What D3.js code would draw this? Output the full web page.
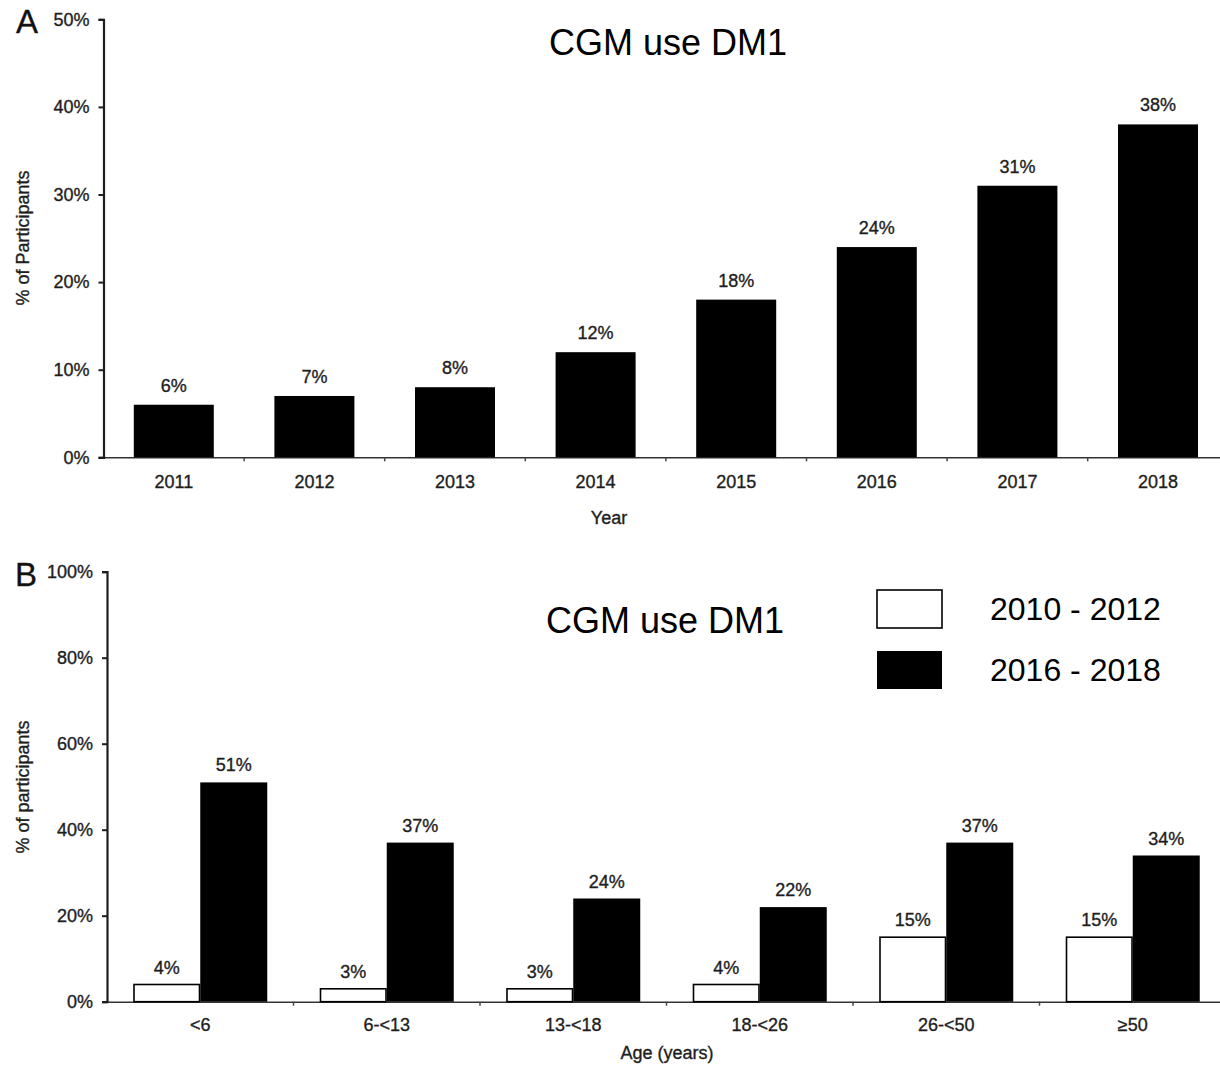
<!DOCTYPE html>
<html>
<head>
<meta charset="utf-8">
<script src="https://cdn.jsdelivr.net/npm/d3@7"></script>
<style>
  html, body { margin: 0; padding: 0; background: #fff; }
  svg { display: block; font-family: "Liberation Sans", Arial, sans-serif; }
  .lbl { stroke: #1e1e1e; stroke-width: 0.35px; }
</style>
</head>
<body>
<svg id="chart" width="1220" height="1067"></svg>
<script>
// Panel A: CGM use by calendar year
const years = ["2011", "2012", "2013", "2014", "2015", "2016", "2017", "2018"];
const yearPct = [6, 7, 8, 12, 18, 24, 31, 38];
const ticksA = [0, 10, 20, 30, 40, 50];

// Panel B: CGM use by age group, two periods
const ageGroups = ["<6", "6-<13", "13-<18", "18-<26", "26-<50", "≥50"];
const periods = ["2010 - 2012", "2016 - 2018"];
const pctEarly = [4, 3, 3, 4, 15, 15];
const pctLate = [51, 37, 24, 22, 37, 34];
const ticksB = [0, 20, 40, 60, 80, 100];

const svg = d3.select("#chart");
const ink = "#1e1e1e";
const fs = 18;
const pct = d => d + "%";

function yAxis(g, y, ticks, x0) {
  const ax = g.append("g").attr("transform", `translate(${x0},0)`)
    .call(d3.axisLeft(y).tickValues(ticks).tickFormat(pct).tickSize(5).tickPadding(9));
  ax.select(".domain").attr("stroke", ink).attr("stroke-width", 2.2);
  ax.selectAll(".tick line").attr("stroke", ink).attr("stroke-width", 2);
  ax.selectAll(".tick text").attr("fill", ink).attr("font-size", fs).attr("class", "lbl")
    .attr("font-family", "Liberation Sans, Arial, sans-serif");
  return ax;
}

function xAxis(g, x, y0, pad) {
  const ax = g.append("g").attr("transform", `translate(0,${y0})`)
    .call(d3.axisBottom(x).tickSize(0).tickPadding(pad));
  ax.select(".domain").attr("stroke", "#333").attr("stroke-width", 1.6);
  ax.selectAll(".tick text").attr("fill", ink).attr("font-size", fs).attr("class", "lbl")
    .attr("font-family", "Liberation Sans, Arial, sans-serif");
  // small separator marks between categories
  const dom = x.domain();
  g.append("g").selectAll("line").data(dom.slice(1)).join("line")
    .attr("x1", d => x(d)).attr("x2", d => x(d))
    .attr("y1", y0).attr("y2", y0 + 4)
    .attr("stroke", "#444").attr("stroke-width", 1.5);
  return ax;
}

// ---------- Panel A ----------
const gA = svg.append("g");
const xA = d3.scaleBand().domain(years).range([103.5, 103.5 + 8 * 140.6]).padding(0);
const yA = d3.scaleLinear().domain([0, 50]).range([457.3, 19.3]);
const barWA = 80;

xAxis(gA, xA, yA(0), 18);
yAxis(gA, yA, ticksA, 103.5);

gA.append("g").selectAll("rect").data(years).join("rect")
  .attr("x", (d) => xA(d) + (xA.bandwidth() - barWA) / 2)
  .attr("width", barWA)
  .attr("y", (d, i) => yA(yearPct[i]))
  .attr("height", (d, i) => yA(0) - yA(yearPct[i]))
  .attr("fill", "#000");

gA.append("g").selectAll("text").data(years).join("text")
  .attr("class", "lbl")
  .attr("x", d => xA(d) + xA.bandwidth() / 2)
  .attr("y", (d, i) => yA(yearPct[i]) - 13)
  .attr("text-anchor", "middle").attr("font-size", fs).attr("fill", ink)
  .text((d, i) => pct(yearPct[i]));

gA.append("text").attr("x", 668).attr("y", 55).attr("text-anchor", "middle")
  .attr("font-size", 36).attr("fill", "#000").text("CGM use DM1");
gA.append("text").attr("x", 16).attr("y", 33).attr("class", "lbl")
  .attr("font-size", 33).attr("fill", "#111").text("A");
gA.append("text").attr("transform", "translate(29,238) rotate(-90)").attr("class", "lbl")
  .attr("text-anchor", "middle").attr("font-size", fs).attr("fill", ink)
  .text("% of Participants");
gA.append("text").attr("x", 609).attr("y", 524).attr("text-anchor", "middle").attr("class", "lbl")
  .attr("font-size", fs).attr("fill", ink).text("Year");

// ---------- Panel B ----------
const gB = svg.append("g");
const xB = d3.scaleBand().domain(ageGroups).range([107, 107 + 6 * 186.5]).padding(0);
const yB = d3.scaleLinear().domain([0, 100]).range([1001.7, 571.7]);
const sub = d3.scaleBand().domain(periods).range([0, 134]).padding(0);
const groupOff = (xB.bandwidth() - 134) / 2;
const seriesB = [
  { key: periods[0], vals: pctEarly, fill: "#fff" },
  { key: periods[1], vals: pctLate, fill: "#000" }
];

xAxis(gB, xB, yB(0), 17);
yAxis(gB, yB, ticksB, 107);

seriesB.forEach(s => {
  gB.append("g").selectAll("rect").data(ageGroups).join("rect")
    .attr("x", d => xB(d) + groupOff + sub(s.key) + (s.fill === "#fff" ? 0.75 : 0))
    .attr("width", sub.bandwidth() - (s.fill === "#fff" ? 1.5 : 0))
    .attr("y", (d, i) => yB(s.vals[i]))
    .attr("height", (d, i) => yB(0) - yB(s.vals[i]))
    .attr("fill", s.fill)
    .attr("stroke", "#000").attr("stroke-width", s.fill === "#fff" ? 1.6 : 0);
  gB.append("g").selectAll("text").data(ageGroups).join("text")
    .attr("class", "lbl")
    .attr("x", d => xB(d) + groupOff + sub(s.key) + sub.bandwidth() / 2)
    .attr("y", (d, i) => yB(s.vals[i]) - 11)
    .attr("text-anchor", "middle").attr("font-size", fs).attr("fill", ink)
    .text((d, i) => pct(s.vals[i]));
});

gB.append("text").attr("x", 665).attr("y", 633).attr("text-anchor", "middle")
  .attr("font-size", 36).attr("fill", "#000").text("CGM use DM1");
gB.append("text").attr("x", 15).attr("y", 586).attr("class", "lbl")
  .attr("font-size", 33).attr("fill", "#111").text("B");
gB.append("text").attr("transform", "translate(29,787) rotate(-90)").attr("class", "lbl")
  .attr("text-anchor", "middle").attr("font-size", fs).attr("fill", ink)
  .text("% of participants");
gB.append("text").attr("x", 667).attr("y", 1059).attr("text-anchor", "middle").attr("class", "lbl")
  .attr("font-size", fs).attr("fill", ink).text("Age (years)");

// Legend
const legend = gB.append("g");
seriesB.forEach((s, i) => {
  const top = [590, 651][i];
  legend.append("rect").attr("x", 877).attr("y", top)
    .attr("width", 65).attr("height", 38)
    .attr("fill", s.fill).attr("stroke", "#000").attr("stroke-width", s.fill === "#fff" ? 1.6 : 0);
  legend.append("text").attr("x", 990).attr("y", top + 30)
    .attr("font-size", 32).attr("fill", "#000").text(s.key);
});
</script>
</body>
</html>
